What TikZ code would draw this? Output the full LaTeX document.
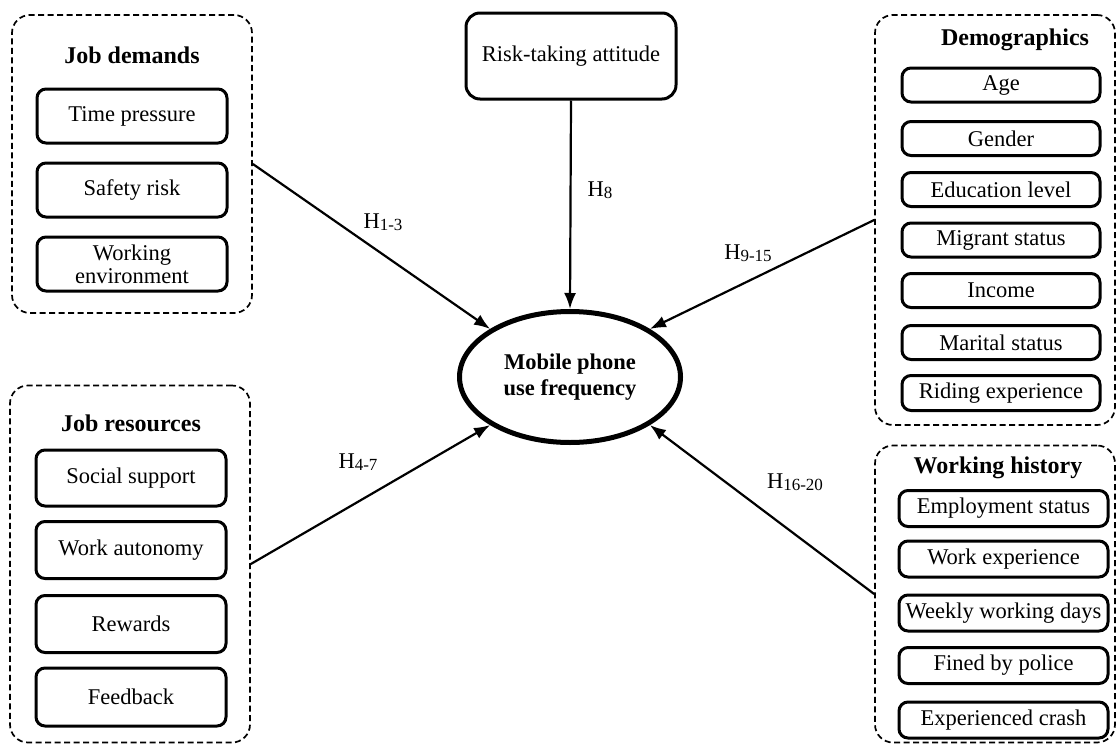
\documentclass[tikz,border=0pt]{standalone}
\usepackage{fontspec}
\setmainfont{Liberation Serif}
\usetikzlibrary{arrows.meta,shapes.geometric}
\newcommand\hsub[1]{\raisebox{-2.5pt}{\fontsize{17}{17}\selectfont #1}}
\begin{document}
\begin{tikzpicture}[x=1pt,y=-1pt,
  group/.style={draw, dashed, dash pattern=on 6pt off 3.5pt, line width=1.7pt, rounded corners=18pt, rectangle, inner sep=0pt},
  item/.style={draw, line width=3pt, rounded corners=9pt, rectangle, inner sep=0pt, align=center, font=\fontsize{22.5}{23}\selectfont},
  ttl/.style={font=\fontsize{24}{26}\selectfont\bfseries, inner sep=0pt},
  hyp/.style={font=\fontsize{22.5}{24}\selectfont, inner sep=0pt},
  arr/.style={line width=2.2pt, -{Latex[length=16pt,width=12pt]}}]
\useasboundingbox (0,0) rectangle (1118,744);
% Job demands
\node[group, minimum width=240, minimum height=298] (jd) at (132,164) {};
\node[ttl] (jdt) at (132,55) {Job demands};
\node[item, minimum width=190, minimum height=54] (jd1) at (132,116) {Time pressure};
\node[item, minimum width=190, minimum height=54] (jd2) at (132,190) {Safety risk};
\node[item, minimum width=190, minimum height=54] (jd3) at (132,264) {Working\\environment};
% Job resources
\node[group, minimum width=240, minimum height=357] (jr) at (130,564) {};
\node[ttl] (jrt) at (131,423) {Job resources};
\node[item, minimum width=190, minimum height=56] (jr1) at (131,478) {Social support};
\node[item, minimum width=190, minimum height=57] (jr2) at (131,550) {Work autonomy};
\node[item, minimum width=190, minimum height=57] (jr3) at (131,624) {Rewards};
\node[item, minimum width=190, minimum height=58] (jr4) at (131,697) {Feedback};
% Risk-taking
\node[item, rounded corners=14pt, minimum width=210, minimum height=86] (rt) at (571,56) {Risk-taking attitude};
% Ellipse
\node[ellipse, draw, line width=5pt, minimum width=221, minimum height=131, inner sep=0pt, align=center, font=\fontsize{22.5}{26}\selectfont\bfseries] (ell) at (570,377) {\raisebox{-4pt}{Mobile phone}\\\raisebox{-4pt}{use frequency}};
% Demographics
\node[group, minimum width=240, minimum height=410] (dem) at (995,220) {};
\node[ttl] (demt) at (1015,40) {Demographics};
\node[item, minimum width=198, minimum height=34] (d1) at (1001,85) {Age};
\node[item, minimum width=198, minimum height=34] (d2) at (1001,138.5) {Gender};
\node[item, minimum width=198, minimum height=34] (d3) at (1001,189.5) {Education level};
\node[item, minimum width=198, minimum height=34] (d4) at (1001,240) {Migrant status};
\node[item, minimum width=198, minimum height=34] (d5) at (1001,290.5) {Income};
\node[item, minimum width=198, minimum height=34] (d6) at (1001,342.5) {Marital status};
\node[item, minimum width=198, minimum height=35] (d7) at (1001,393) {Riding experience};
% Working history
\node[group, minimum width=240, minimum height=297] (wh) at (995,594) {};
\node[ttl] (wht) at (998,468) {Working history};
\node[item, minimum width=209, minimum height=36] (w1) at (1003.5,508.5) {Employment status};
\node[item, minimum width=209, minimum height=36] (w2) at (1003.5,559) {Work experience};
\node[item, minimum width=209, minimum height=36] (w3) at (1003.5,613) {Weekly working days};
\node[item, minimum width=209, minimum height=36] (w4) at (1003.5,665.5) {Fined by police};
\node[item, minimum width=209, minimum height=36] (w5) at (1003.5,720) {Experienced crash};
% Connectors
\draw[arr] (jd.east) -- (ell.north west);
\draw[arr] (jr.east) -- (ell.south west);
\draw[arr] (dem.west) -- (ell.north east);
\draw[arr] (wh.west) -- (ell.south east);
\draw[arr] (rt.south) -- (ell.north);
% Labels
\node[hyp] (h13) at (383,222) {H\hsub{1-3}};
\node[hyp] (h47) at (358,462) {H\hsub{4-7}};
\node[hyp] (h8) at (600,190) {H\hsub{8}};
\node[hyp] (h915) at (748,253) {H\hsub{9-15}};
\node[hyp] (h1620) at (795,482) {H\hsub{16-20}};
\end{tikzpicture}
\end{document}
